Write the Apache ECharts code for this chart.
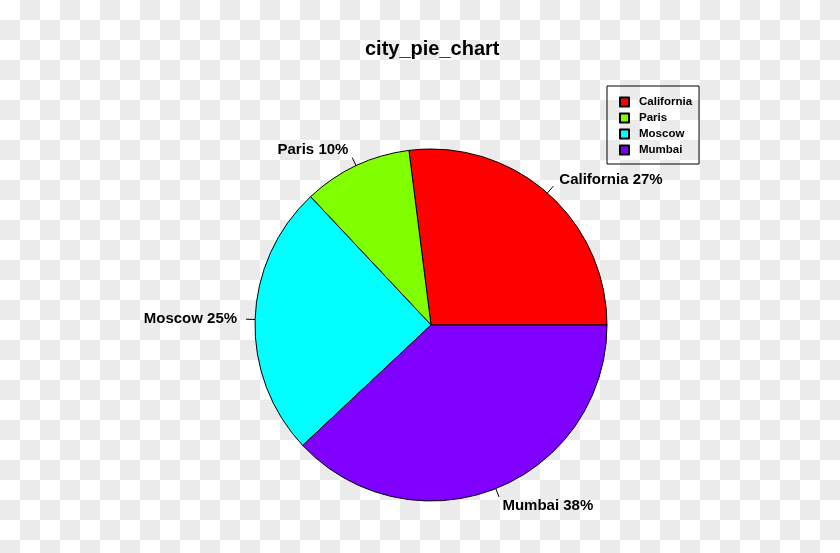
<!DOCTYPE html>
<html>
<head>
<meta charset="utf-8">
<script src="https://cdn.jsdelivr.net/npm/echarts@6/dist/echarts.min.js"></script>
<style>
html,body{margin:0;padding:0;}
body{background-color:#fff;background-image:repeating-conic-gradient(#ebebeb 0% 25%, #ffffff 0% 50%);background-size:40px 40px;background-position:0 0;}
#chart{width:840px;height:553px;}
</style>
</head>
<body>
<div id="chart"></div>
<script>
const cities = ["California", "Paris", "Moscow", "Mumbai"];
const values = [27, 10, 25, 38];
const colors = ["#FF0000", "#80FF00", "#00FFFF", "#8000FF"];

const total = values.reduce((a, b) => a + b, 0);
const chart = echarts.init(document.getElementById('chart'), null, {renderer: 'canvas'});
chart.setOption({
  backgroundColor: 'transparent',
  animation: false,
  title: {
    text: 'city_pie_chart',
    left: 365,
    top: 39,
    padding: 0,
    textStyle: {fontFamily: 'Liberation Sans', fontWeight: 'bold', fontSize: 20, color: '#000'}
  },
  legend: {
    orient: 'vertical',
    left: 607,
    top: 86,
    data: cities,
    borderColor: '#000',
    borderWidth: 1,
    borderRadius: 0,
    padding: [10, 7, 8, 12],
    itemWidth: 9,
    itemHeight: 9,
    itemGap: 4,
    icon: 'rect',
    textStyle: {fontFamily: 'Liberation Sans', fontWeight: 'bold', fontSize: 11.5, color: '#000', padding: [0, 0, 0, 5]}
  },
  series: [{
    type: 'pie',
    center: [431, 325],
    radius: 176,
    startAngle: 0,
    clockwise: false,
    data: cities.map((c, i) => ({name: c, value: values[i], itemStyle: {color: colors[i]}})),
    itemStyle: {borderColor: '#000', borderWidth: 1},
    label: {
      show: true,
      position: 'outside',
      distanceToLabelLine: 0,
      formatter: p => p.name + ' ' + Math.round(p.value / total * 100) + '%',
      fontFamily: 'Liberation Sans',
      fontWeight: 'bold',
      fontSize: 15,
      padding: [5, 0, 0, 0],
      color: '#000'
    },
    labelLine: {
      show: true,
      length: 18,
      length2: 0,
      smooth: false,
      lineStyle: {color: '#000', width: 1, type: [9, 40]}
    },
    emphasis: {disabled: true}
  }]
});
</script>
</body>
</html>
